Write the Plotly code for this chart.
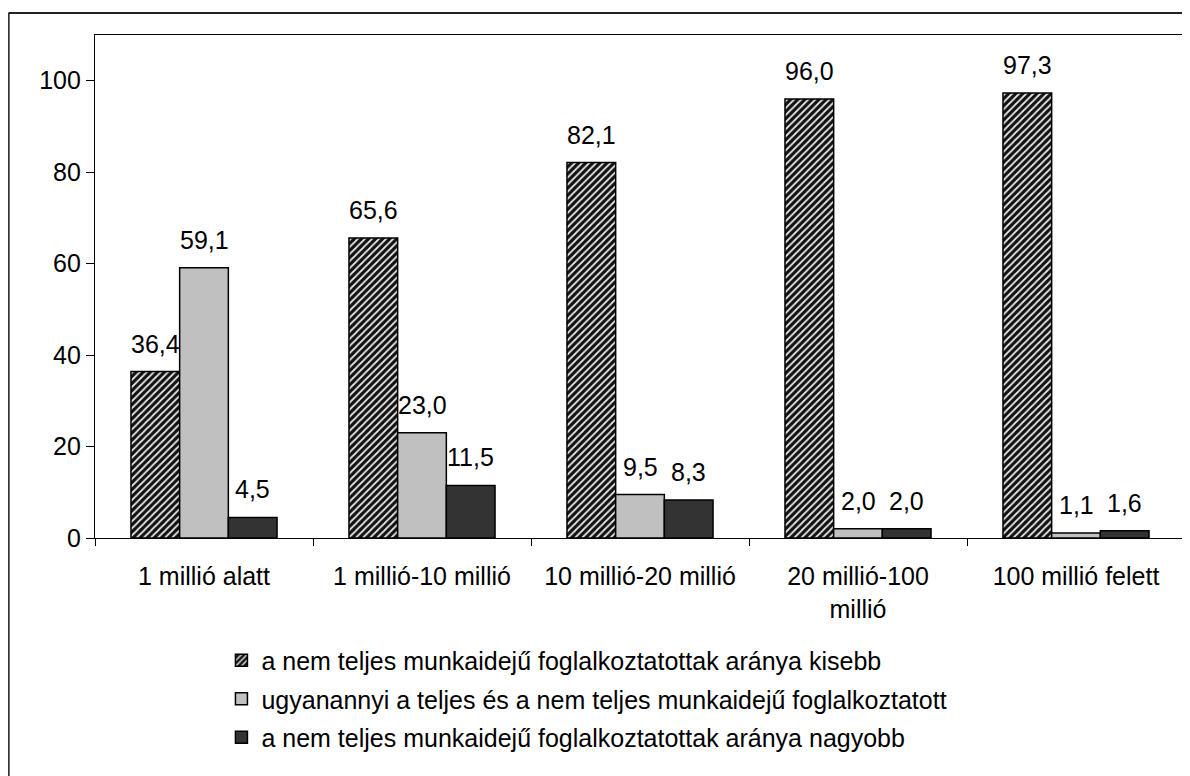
import plotly.graph_objects as go

categories = [
    "1 millió alatt",
    "1 millió-10 millió",
    "10 millió-20 millió",
    "20 millió-100<br>millió",
    "100 millió felett",
]
series_names = [
    "a nem teljes munkaidejű foglalkoztatottak aránya kisebb",
    "ugyanannyi a teljes és a nem teljes munkaidejű foglalkoztatott",
    "a nem teljes munkaidejű foglalkoztatottak aránya nagyobb",
]
kisebb = [36.4, 65.6, 82.1, 96.0, 97.3]
ugyanannyi = [59.1, 23.0, 9.5, 2.0, 1.1]
nagyobb = [4.5, 11.5, 8.3, 2.0, 1.6]

FONT = "Liberation Sans, Arial, sans-serif"
FS = 25
BARGAP = 0.33

styles = [
    dict(color="#111111",
         pattern=dict(shape="/", fgcolor="#e8e8e8", bgcolor="#111111",
                      size=5, solidity=0.35, fillmode="replace")),
    dict(color="#c0c0c0"),
    dict(color="#333333"),
]

fig = go.Figure()
for name, vals, st in zip(series_names, [kisebb, ugyanannyi, nagyobb], styles):
    fig.add_trace(go.Bar(
        x=categories,
        y=vals,
        name=name,
        legendgroup=name,
        marker=dict(line=dict(color="black", width=1.5), **st),
    ))

# value labels, placed over each bar of the group
bar_w = (1 - BARGAP) / 3
annotations = []
for k, vals in enumerate([kisebb, ugyanannyi, nagyobb]):
    for i, v in enumerate(vals):
        annotations.append(dict(
            x=i + (k - 1) * bar_w, y=v, xref="x", yref="y",
            text=f"{v:.1f}".replace(".", ","),
            showarrow=False, yanchor="bottom", yshift=12,
            font=dict(family=FONT, size=FS, color="black"),
        ))

# outer chart frame (left and top edges visible)
shapes = [
    dict(type="line", xref="paper", yref="paper",
         x0=-0.0794, x1=-0.0794, y0=1.0437, y1=-0.6,
         line=dict(color="#333333", width=2.5)),
    dict(type="line", xref="paper", yref="paper",
         x0=-0.0794, x1=1.02, y0=1.0437, y1=1.0437,
         line=dict(color="#222222", width=2)),
]

fig.update_layout(
    width=1190,
    height=776,
    margin=dict(l=87, r=13, t=27, b=246),
    paper_bgcolor="white",
    plot_bgcolor="white",
    barmode="group",
    bargap=BARGAP,
    bargroupgap=0,
    font=dict(family=FONT, size=FS, color="black"),
    annotations=annotations,
    shapes=shapes,
    legend=dict(
        x=0.116, y=-0.198, xanchor="left", yanchor="top",
        font=dict(family=FONT, size=FS, color="black"),
        tracegroupgap=3,
        bgcolor="rgba(0,0,0,0)",
    ),
    xaxis=dict(
        showline=True, linecolor="black", linewidth=1.2, mirror=True,
        ticks="outside", tickson="boundaries", ticklen=7, tickcolor="black",
        showgrid=False, tickfont=dict(size=FS), ticklabelstandoff=16,
    ),
    yaxis=dict(
        range=[0, 110], dtick=20, showline=True, linecolor="black",
        linewidth=1.2, mirror=True, ticks="outside", ticklen=8,
        tickcolor="black", showgrid=False, zeroline=False,
        tickfont=dict(size=FS),
    ),
)

fig.write_html("out.html")
